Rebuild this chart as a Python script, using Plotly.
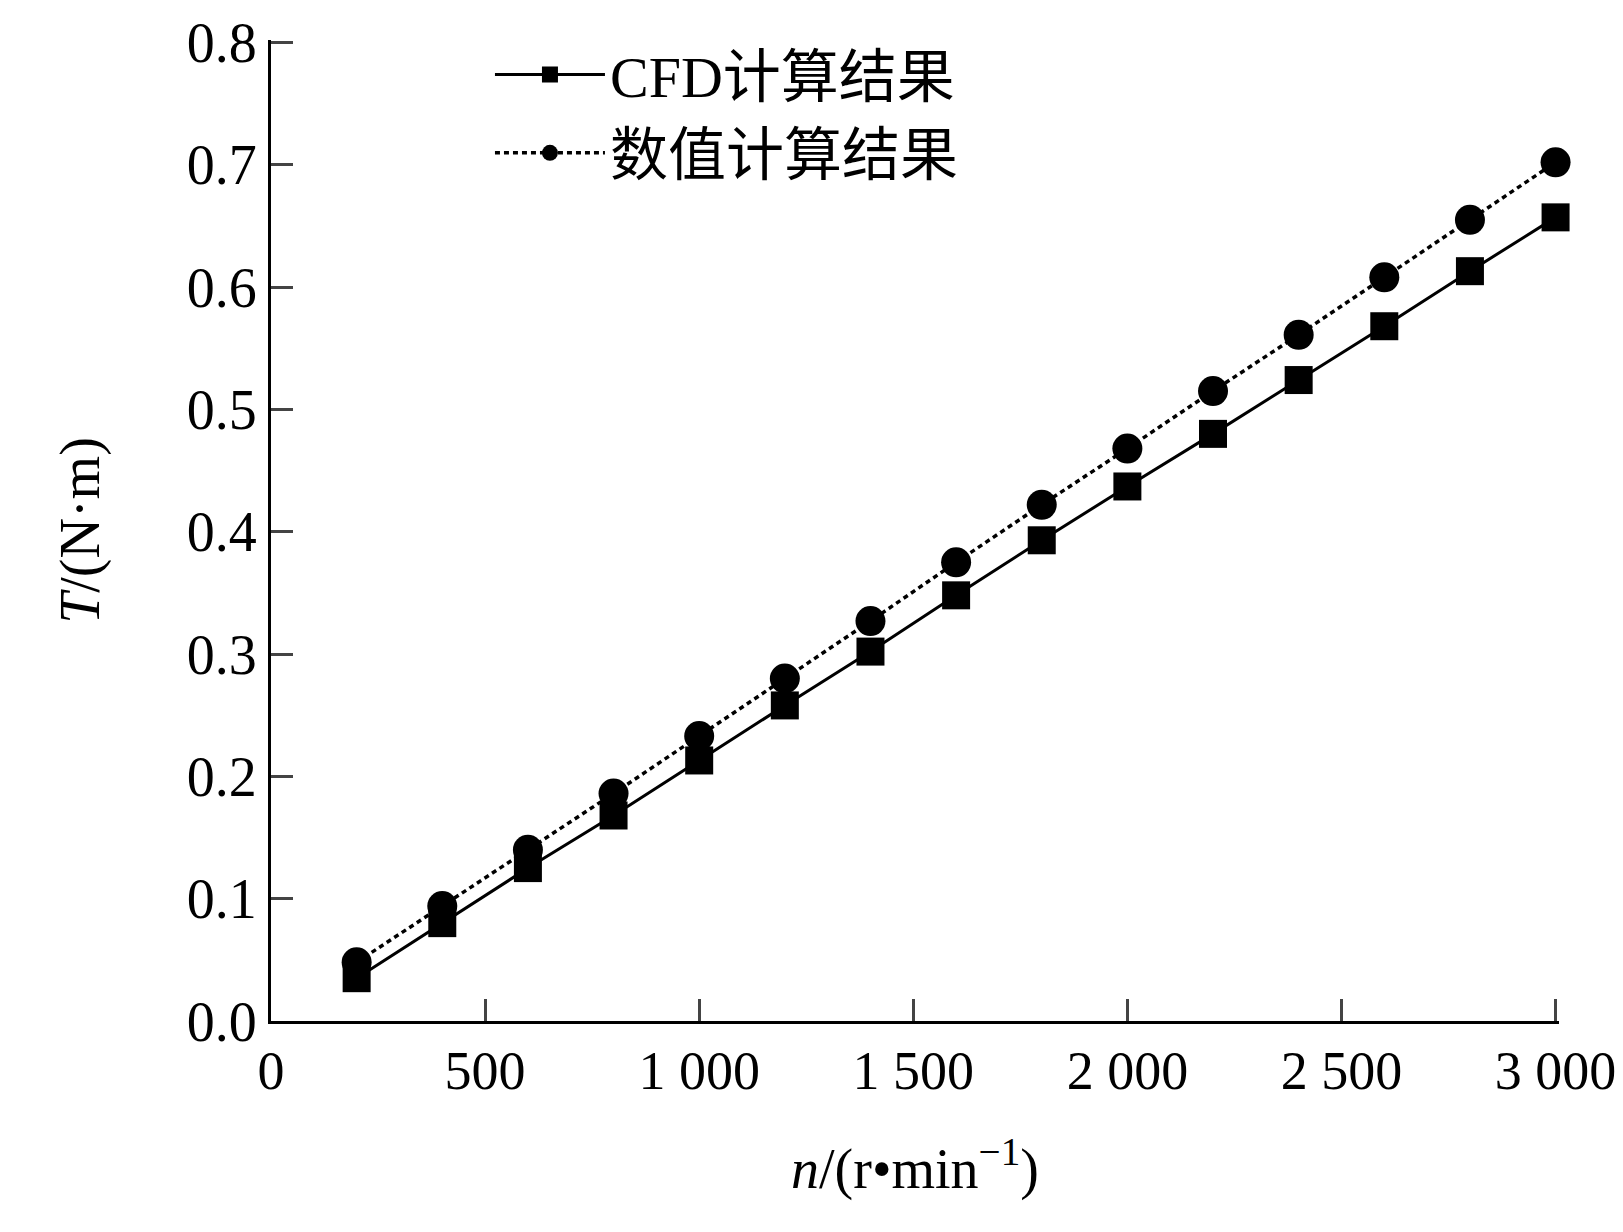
import plotly.graph_objects as go

speed = [200, 400, 600, 800, 1000, 1200, 1400, 1600, 1800, 2000, 2200, 2400, 2600, 2800, 3000]
cfd = [0.035, 0.080, 0.125, 0.168, 0.213, 0.258, 0.302, 0.348, 0.393, 0.437, 0.480, 0.524, 0.568, 0.613, 0.657]
numeric = [0.048, 0.094, 0.140, 0.186, 0.233, 0.280, 0.327, 0.375, 0.422, 0.468, 0.515, 0.561, 0.608, 0.655, 0.702]
xticks = [0, 500, 1000, 1500, 2000, 2500, 3000]
xlabels = ["0", "500", "1 000", "1 500", "2 000", "2 500", "3 000"]
yticks = [0.0, 0.1, 0.2, 0.3, 0.4, 0.5, 0.6, 0.7, 0.8]

font = "Liberation Serif, Noto Sans CJK SC"
fig = go.Figure()
fig.add_trace(go.Scatter(x=speed, y=cfd, name="CFD计算结果", mode="lines+markers", cliponaxis=False,
                         line=dict(color="black", width=3), marker=dict(symbol="square", size=28, color="black")))
fig.add_trace(go.Scatter(x=speed, y=numeric, name="数值计算结果", mode="lines+markers", cliponaxis=False,
                         line=dict(color="black", width=3.5, dash="5px,4px"), marker=dict(symbol="circle", size=30, color="black")))
fig.update_layout(
    width=1623, height=1232, plot_bgcolor="white", paper_bgcolor="white",
    margin=dict(l=263, r=72, t=32, b=219, autoexpand=False),
    font=dict(family=font, size=56, color="black"),
    legend=dict(x=0.17, y=1.01, xanchor="left", yanchor="top", bgcolor="rgba(0,0,0,0)",
                font=dict(size=58), itemwidth=110, tracegroupgap=0),
    showlegend=True,
)
fig.update_xaxes(range=[0, 3008], tickvals=xticks, ticktext=xlabels, ticks="inside", ticklen=22, tickwidth=3,
                 showline=True, linewidth=3, linecolor="black", showgrid=False, zeroline=False,
                 tickfont=dict(size=54), ticklabeloverflow="allow", automargin=False,
                 title=dict(text="<i>n</i>/(r•min<sup>−1</sup>)", font=dict(size=56), standoff=50))
fig.update_yaxes(range=[0, 0.802], tickvals=yticks, tickformat=".1f", ticks="inside", ticklen=22, tickwidth=3,
                 showline=True, linewidth=3, linecolor="black", showgrid=False, zeroline=False,
                 tickfont=dict(size=56), ticklabeloverflow="allow", automargin=False,
                 title=dict(text="<i>T</i>/(N·m)", font=dict(size=56), standoff=70))
fig.write_html("out.html")
